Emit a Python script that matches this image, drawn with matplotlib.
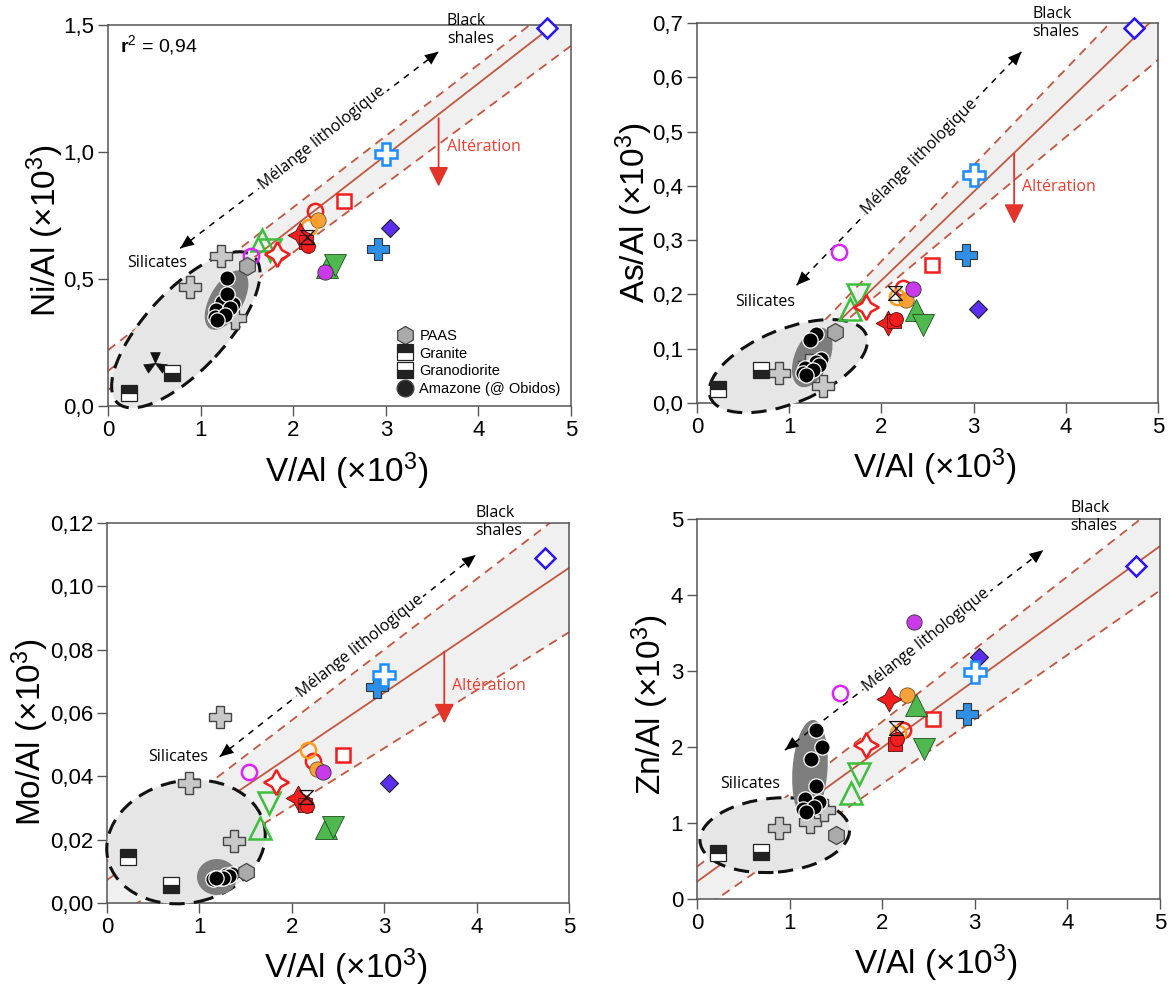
import numpy as np
import matplotlib
matplotlib.use("Agg")
import matplotlib.pyplot as plt
from matplotlib.patches import Ellipse
from matplotlib.lines import Line2D
from matplotlib.path import Path
from matplotlib.ticker import FuncFormatter
from matplotlib.transforms import ScaledTranslation

plt.rcParams["font.family"] = ["Liberation Sans", "DejaVu Sans"]
plt.rcParams["mathtext.fontset"] = "custom"
plt.rcParams["mathtext.rm"] = "Liberation Sans"
plt.rcParams["mathtext.it"] = "Liberation Sans:italic"
plt.rcParams["mathtext.bf"] = "Liberation Sans:bold"

# reference samples, one value each (same order in every list)
sample_names = ["black shale", "violet diamond", "blue cross", "open blue cross",
                "open red square", "open red circle", "orange circle", "open orange circle",
                "red star", "red square", "red circle", "small triangles",
                "green triangle", "green inv. triangle", "magenta circle",
                "open green triangle", "open green inv. triangle", "open red star",
                "open magenta circle", "PAAS", "Granite", "Granodiorite"]
v_al = [4.74, 3.05, 2.92, 3.00, 2.55, 2.23, 2.27, 2.17, 2.07, 2.14, 2.16, 2.15,
        2.37, 2.45, 2.34, 1.66, 1.75, 1.83, 1.54, 1.50, 0.23, 0.69]
ni_al = [1.49, 0.70, 0.617, 0.992, 0.806, 0.766, 0.732, 0.706, 0.673, 0.645, 0.628, 0.665,
         0.546, 0.555, 0.529, 0.654, 0.614, 0.598, 0.59, 0.551, 0.052, 0.131]
as_al = [0.69, 0.174, 0.273, 0.42, 0.254, 0.211, 0.19, 0.195, 0.147, 0.152, 0.154, 0.203,
         0.171, 0.144, 0.21, 0.174, 0.199, 0.177, 0.278, 0.131, 0.025, 0.061]
mo_al = [0.1088, 0.0378, 0.0683, 0.072, 0.0467, 0.0449, 0.0422, 0.0483, 0.033, 0.031, 0.0305, 0.0336,
         0.0236, 0.0241, 0.0415, 0.0236, 0.0315, 0.0383, 0.0415, 0.0099, 0.0146, 0.0057]
zn_al = [4.38, 3.18, 2.44, 2.99, 2.37, 2.22, 2.68, 2.18, 2.63, 2.04, 2.11, 2.25,
         2.55, 1.98, 3.64, 1.40, 1.64, 2.03, 2.71, 0.84, 0.60, 0.62]

# grey crosses (crustal rocks)
crust_v = [0.89, 1.22, 1.37]
crust_ni = [0.467, 0.59, 0.345]
crust_as = [0.055, 0.07, 0.031]
crust_mo = [0.0378, 0.0588, 0.0197]
crust_zn = [0.93, 1.02, 1.17]

# Amazone (@ Obidos)
amazon_v = [1.29, 1.35, 1.23, 1.29, 1.17, 1.32, 1.15, 1.26, 1.18]
amazon_ni = [0.503, 0.40, 0.41, 0.441, 0.378, 0.385, 0.349, 0.36, 0.339]
amazon_as = [0.128, 0.082, 0.116, 0.076, 0.064, 0.07, 0.055, 0.06, 0.052]
amazon_mo = [0.0085, 0.009, 0.008, 0.0088, 0.0078, 0.0085, 0.0075, 0.008, 0.0078]
amazon_zn = [2.22, 2.00, 1.84, 1.49, 1.32, 1.28, 1.19, 1.21, 1.15]

# black three-blade sample (Ni only)
blade_v = [0.51]
blade_ni = [0.17]

# regression (intercept, slope) and dashed envelope, one per panel
fit_mid = [(0.138, 0.283), (-0.100, 0.163), (0.0073, 0.0197), (0.228, 0.883)]
fit_up = [(0.22, 0.281), (-0.093, 0.177), (0.0131, 0.0223), (0.424, 0.955)]
fit_lo = [(0.063, 0.271), (-0.078, 0.142), (-0.006, 0.0183), (-0.18, 0.848)]
r2_ni = "0,94"

y_names = ["Ni", "As", "Mo", "Zn"]
y_max = [1.5, 0.7, 0.12, 5]
y_step = [0.5, 0.1, 0.02, 1]
y_dec = [1, 1, 2, 0]

hourglass = Path([(-0.5, 0.5), (0.5, 0.5), (0, 0), (-0.5, 0.5),
                  (-0.5, -0.5), (0.5, -0.5), (0, 0), (-0.5, -0.5)],
                 [Path.MOVETO, Path.LINETO, Path.LINETO, Path.CLOSEPOLY,
                  Path.MOVETO, Path.LINETO, Path.LINETO, Path.CLOSEPOLY])

# three fan blades, wide at the tips
_verts, _codes = [], []
for a in (90, 210, 330):
    for d, c in ((None, Path.MOVETO), (a - 24, Path.LINETO), (a + 24, Path.LINETO), (None, Path.CLOSEPOLY)):
        _verts.append((0, 0) if d is None else (np.cos(np.radians(d)), np.sin(np.radians(d))))
        _codes.append(c)
fan = Path(_verts, _codes)

RED = "#f21d1d"
GREEN = "#4fb84f"
styles = [
    dict(marker="D", ms=10, mfc="white", mec="#2a14f5", mew=1.8),
    dict(marker="D", ms=9, mfc="#5b2ef0", mec="#222222", mew=0.8),
    dict(marker="P", ms=16, mfc="#2f8fe6", mec="#333333", mew=0.8),
    dict(marker="P", ms=16, mfc="white", mec="#1a8cff", mew=1.8),
    dict(marker="s", ms=10, mfc="white", mec=RED, mew=1.8),
    dict(marker="o", ms=11, mfc="none", mec=RED, mew=1.8),
    dict(marker="o", ms=11, mfc="#f7a238", mec="#7a5520", mew=0.6),
    dict(marker="o", ms=11, mfc="none", mec="#ff9a1a", mew=1.8),
    dict(marker=(4, 1, 0), ms=18, mfc=RED, mec="#551111", mew=0.6),
    dict(marker="s", ms=10, mfc=RED, mec="#551111", mew=0.6),
    dict(marker="o", ms=10, mfc=RED, mec="#551111", mew=0.6),
    dict(marker=hourglass, ms=10, mfc="none", mec="#111111", mew=0.9),
    dict(marker="^", ms=16, mfc=GREEN, mec="#1f4f1f", mew=0.6),
    dict(marker="v", ms=16, mfc=GREEN, mec="#1f4f1f", mew=0.6),
    dict(marker="o", ms=11, mfc="#c93be8", mec="#333333", mew=0.6),
    dict(marker="^", ms=16, mfc="none", mec="#3cbf3c", mew=1.8),
    dict(marker="v", ms=16, mfc="none", mec="#3cbf3c", mew=1.8),
    dict(marker=(4, 1, 0), ms=18, mfc="white", mec=RED, mew=1.8),
    dict(marker="o", ms=11, mfc="none", mec="#dd22ff", mew=1.8),
    dict(marker="h", ms=13, mfc="#aaaaaa", mec="#444444", mew=0.9),
    dict(marker="s", ms=11, mfc="#222222", mfcalt="white", fillstyle="top", mec="#222222", mew=0.9),
    dict(marker="s", ms=11, mfc="#222222", mfcalt="white", fillstyle="bottom", mec="#222222", mew=0.9),
]
crust_style = dict(marker="P", ms=16, mfc="#c8c8c8", mec="#444444", mew=1.0)
amazon_style = dict(marker="o", ms=11, mfc="black", mec="white", mew=0.9)

# annotation layout per panel (data coordinates) -- cx, cy, w_px, h_px, angle
big_ell = [(0.84, 0.30, 200, 80, 47), (0.99, 0.068, 168, 74, 22),
           (0.855, 0.0193, 160, 122, 12), (0.84, 0.84, 150, 74, 5)]
dark_ell = [(1.28, 0.417, 66, 33, 60), (1.25, 0.084, 63, 35, 67),
            (1.19, 0.0082, 40, 36, 0), (1.22, 1.70, 100, 35, 86)]
shales_xy = [(3.66, 1.48), (3.64, 0.70), (3.99, 0.1203), (4.03, 5.03)]
silic_xy = [(0.205, 0.563), (0.41, 0.186), (0.447, 0.046), (0.25, 1.52)]
mel_start = [(0.78, 0.621), (1.08, 0.217), (1.22, 0.0462), (0.95, 1.96)]
mel_end = [(3.57, 1.395), (3.52, 0.647), (3.99, 0.1099), (3.74, 4.59)]
mel_text = [(2.31, 1.054, 38.5), (2.42, 0.454, 45), (2.74, 0.081, 38.3), (2.48, 3.41, 38.4)]
alt_text = [(3.66, 1.02), (3.52, 0.397), (3.73, 0.0685), None]
alt_arrow = [(3.57, 1.133, 0.864), (3.44, 0.459, 0.33), (3.65, 0.0794, 0.0567), None]
ylab_pos = [(-0.136, 0.46), (-0.136, 0.50), (-0.167, 0.45), (-0.101, 0.51)]

boxes = [[0.0921, 0.5903, 0.3947, 0.3845], [0.5942, 0.5933, 0.3930, 0.3835],
         [0.0912, 0.0888, 0.3939, 0.3835], [0.5942, 0.0928, 0.3947, 0.3835]]

panel_y = [ni_al, as_al, mo_al, zn_al]
crust_y = [crust_ni, crust_as, crust_mo, crust_zn]
amazon_y = [amazon_ni, amazon_as, amazon_mo, amazon_zn]

FIT = "#c4563e"
ANNOT = ["Open Sans", "DejaVu Sans"]
fig = plt.figure(figsize=(11.73, 9.91), dpi=100)


def add_ellipse(ax, spec, **kw):
    cx, cy, w, h, ang = spec
    tr = fig.dpi_scale_trans + ScaledTranslation(cx, cy, ax.transData)
    ax.add_patch(Ellipse((0, 0), w / 100, h / 100, angle=ang, transform=tr, **kw))


def fmt(dec):
    return FuncFormatter(lambda v, p: f"{v:.{dec}f}".replace(".", ","))


for k in range(4):
    ax = fig.add_axes(boxes[k])
    ax.set_xlim(0, 5)
    ax.set_ylim(0, y_max[k])
    ax.set_xticks(range(6))
    ax.set_yticks(np.arange(0, y_max[k] + y_step[k] / 2, y_step[k]))
    ax.yaxis.set_major_formatter(fmt(y_dec[k]))
    for s in ax.spines.values():
        s.set_color("#555555")
        s.set_linewidth(1.1)
    ax.tick_params(direction="out", length=7, width=1, color="#555555", labelsize=16, pad=3)

    xs = np.array([0.0, 5.0])
    ax.fill_between(xs, fit_lo[k][0] + fit_lo[k][1] * xs, fit_up[k][0] + fit_up[k][1] * xs,
                    color="#f0f0f0", lw=0, zorder=1)
    ax.plot(xs, fit_mid[k][0] + fit_mid[k][1] * xs, color=FIT, lw=1.3, zorder=2)
    for a, b in (fit_up[k], fit_lo[k]):
        ax.plot(xs, a + b * xs, color=FIT, lw=1.3, ls=(0, (5, 3.5)), zorder=2)

    add_ellipse(ax, big_ell[k], facecolor="#e6e6e6", edgecolor="#111111", lw=2.2,
                ls=(0, (5, 3)), zorder=3, clip_on=False)
    add_ellipse(ax, dark_ell[k], facecolor="#7d7d7d", edgecolor="none", zorder=3.5)

    # mixing arrow
    (x0, y0), (x1, y1) = mel_start[k], mel_end[k]
    ax.plot([x0, x1], [y0, y1], color="black", lw=1.1, ls=(0, (4, 4)), zorder=4)
    for (xa, ya), (xb, yb) in (((x0, y0), (x1, y1)), ((x1, y1), (x0, y0))):
        ax.annotate("", xy=(xb, yb), xytext=(xb - 0.08 * (xb - xa), yb - 0.08 * (yb - ya)),
                    arrowprops=dict(arrowstyle="-|>,head_length=0.7,head_width=0.3",
                                    color="black", lw=0, shrinkA=0, shrinkB=0,
                                    mutation_scale=14), zorder=4)
    tx, ty, rot = mel_text[k]
    ax.text(tx, ty, "Mélange lithologique", rotation=rot, rotation_mode="anchor",
            ha="center", va="center", fontsize=11.5, family=ANNOT,
            bbox=dict(facecolor="white", edgecolor="none", pad=1.5), zorder=5)
    ax.text(*shales_xy[k], "Black\nshales", ha="left", va="center", fontsize=11.5,
            linespacing=1.15, family=ANNOT, zorder=5)
    ax.text(*silic_xy[k], "Silicates", ha="left", va="center", fontsize=11.5,
            family=ANNOT, zorder=5)
    if alt_text[k] is not None:
        ax.text(*alt_text[k], "Altération", ha="left", va="center", fontsize=11.5,
                color="#ee3b2e", family=ANNOT, zorder=5)
        ax_x, ay0, ay1 = alt_arrow[k]
        ax.annotate("", xy=(ax_x, ay1), xytext=(ax_x, ay0),
                    arrowprops=dict(arrowstyle="-|>,head_length=0.8,head_width=0.4",
                                    color="#e3342a", lw=1.3, shrinkA=0, shrinkB=0,
                                    mutation_scale=15), zorder=5)

    # data points
    ax.plot(crust_v, crust_y[k], ls="none", zorder=6, **crust_style)
    ax.plot(amazon_v, amazon_y[k], ls="none", zorder=6, **amazon_style)
    for i in range(len(v_al)):
        ax.plot(v_al[i], panel_y[k][i], ls="none", zorder=7, clip_on=False, **styles[i])
    if k == 0:
        ax.plot(blade_v, blade_ni, ls="none", marker=fan, ms=17, mfc="#111111",
                mec="#111111", mew=0.5, zorder=6)
        ax.text(0.13, 1.42, r"$\mathbf{r}^{2}$ = " + r2_ni, fontsize=14, ha="left", va="center")
        handles = [Line2D([], [], ls="none", label="PAAS", **styles[19]),
                   Line2D([], [], ls="none", label="Granite", **styles[20]),
                   Line2D([], [], ls="none", label="Granodiorite", **styles[21]),
                   Line2D([], [], ls="none", marker="o", ms=12, mfc="#222222", mec="#444444",
                          label="Amazone (@ Obidos)")]
        ax.legend(handles=handles, loc="lower right", frameon=False, fontsize=10.5,
                  handlelength=1.0, handletextpad=0.5, labelspacing=0.25, borderaxespad=0.3)

    ax.set_xlabel("V/Al (×10$^{3}$)", fontsize=24, va="center")
    ax.xaxis.set_label_coords(0.516, -0.17)
    ax.set_ylabel(y_names[k] + "/Al (×10$^{3}$)", fontsize=24, va="center")
    ax.yaxis.set_label_coords(*ylab_pos[k])

fig.savefig("out.png", dpi=100)
